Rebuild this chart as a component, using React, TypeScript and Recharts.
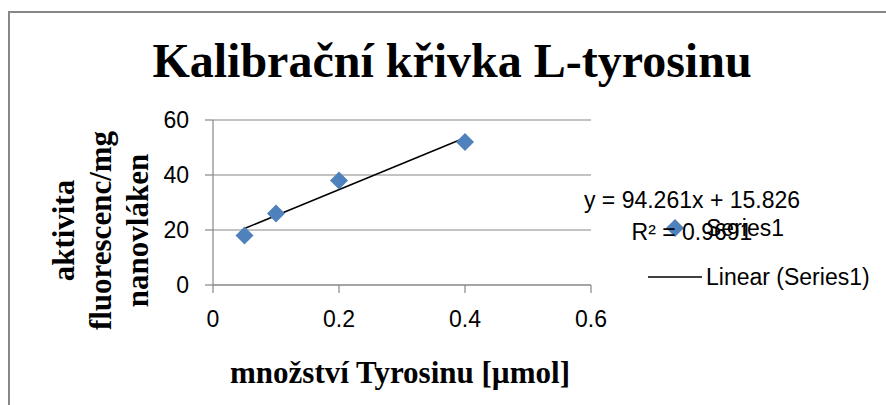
import React from 'react';
import {
  ScatterChart, Scatter, XAxis, YAxis, CartesianGrid,
} from 'recharts';

const amounts = [0.05, 0.1, 0.2, 0.4];
const activity = [18, 26, 38, 52];

// Excel linear trendline endpoints (y = 94.261x + 15.826)
const trendX = [0.05, 0.4];
const trendY = [20.54, 53.53];

const xTicks = [0, 0.2, 0.4, 0.6];
const yTicks = [0, 20, 40, 60];

const seriesName = 'Series1';
const trendName = 'Linear (Series1)';
const equation = 'y = 94.261x + 15.826';
const rSquared = 'R² = 0.9691';

const points = amounts.map((x, i) => ({ x, y: activity[i] }));
const trend = trendX.map((x, i) => ({ x, y: trendY[i] }));

const BLUE = '#4F81BD';
const GRID = '#878787';
const SANS = '"Liberation Sans", Arial, sans-serif';
const SERIF = '"Liberation Serif", "Times New Roman", serif';
const FS = 23;

const Diamond = ({ cx, cy }: any) => {
  const r = 9;
  return (
    <polygon
      points={`${cx},${cy - r} ${cx + r},${cy} ${cx},${cy + r} ${cx - r},${cy}`}
      fill={BLUE}
    />
  );
};

const legendItems = [
  { name: seriesName, kind: 'diamond' },
  { name: trendName, kind: 'line' },
];

const ChartLegend = () => (
  <div
    style={{
      position: 'absolute', left: 648, top: 203.5,
      fontFamily: SANS, fontSize: FS, color: '#000',
    }}
  >
    {legendItems.map(item => (
      <div key={item.name} style={{ display: 'flex', alignItems: 'center', height: 49 }}>
        <svg width={54} height={20} style={{ marginRight: 4 }}>
          {item.kind === 'diamond' ? (
            <polygon points="27,1 36,10 27,19 18,10" fill={BLUE} />
          ) : (
            <line x1={0} y1={10} x2={54} y2={10} stroke="#000" strokeWidth={1.5} />
          )}
        </svg>
        <span style={{ whiteSpace: 'nowrap' }}>{item.name}</span>
      </div>
    ))}
  </div>
);

export default function App() {
  return (
    <div
      style={{
        position: 'absolute', left: 0, top: 0, width: 886, height: 405,
        overflow: 'hidden', background: '#fff',
      }}
    >
      <div
        style={{
          position: 'absolute', left: 8, top: 11, width: 900, height: 420,
          borderLeft: `2px solid ${GRID}`, borderTop: `2px solid ${GRID}`,
        }}
      />
      <div
        style={{
          position: 'absolute', left: 0, top: 37, width: 904, textAlign: 'center',
          fontFamily: SERIF, fontWeight: 'bold', fontSize: 48, lineHeight: '48px',
        }}
      >
        Kalibrační křivka L-tyrosinu
      </div>
      <div
        style={{
          position: 'absolute', left: 0, top: 357, width: 800, textAlign: 'center',
          fontFamily: SERIF, fontWeight: 'bold', fontSize: 31, lineHeight: '31px',
        }}
      >
        množství Tyrosinu [µmol]
      </div>
      <div
        style={{
          position: 'absolute', left: -60, top: 174.5, width: 320, height: 111,
          textAlign: 'center', transform: 'rotate(-90deg)',
          fontFamily: SERIF, fontWeight: 'bold', fontSize: 31, lineHeight: '37px',
        }}
      >
        aktivita<br />fluorescenc/mg<br />nanovláken
      </div>

      <ScatterChart
        width={886}
        height={405}
        margin={{ top: 120, right: 295, bottom: 90, left: 173 }}
        style={{ position: 'absolute', left: 0, top: 0 }}
      >
        <CartesianGrid vertical={false} stroke={GRID} strokeWidth={1.2} />
        <XAxis
          type="number"
          dataKey="x"
          domain={[0, 0.6]}
          ticks={xTicks}
          height={30}
          axisLine={{ stroke: GRID, strokeWidth: 1.2 }}
          tickLine={{ stroke: GRID, strokeWidth: 1.2 }}
          tickSize={8}
          tickMargin={18}
          tick={{ fontFamily: SANS, fontSize: FS, fill: '#000' }}
        />
        <YAxis
          type="number"
          dataKey="y"
          domain={[0, 60]}
          ticks={yTicks}
          width={40}
          axisLine={{ stroke: GRID, strokeWidth: 1.2 }}
          tickLine={{ stroke: GRID, strokeWidth: 1.2 }}
          tickSize={8}
          tickMargin={16}
          tick={{ fontFamily: SANS, fontSize: FS, fill: '#000' }}
        />
        <Scatter
          name={trendName}
          data={trend}
          line={{ stroke: '#000', strokeWidth: 1.5 }}
          shape={() => <g />}
          isAnimationActive={false}
        />
        <Scatter
          name={seriesName}
          data={points}
          shape={Diamond}
          fill={BLUE}
          isAnimationActive={false}
        />
      </ScatterChart>

      <ChartLegend />

      <div
        style={{
          position: 'absolute', left: 542, top: 184, width: 300, textAlign: 'center',
          fontFamily: SANS, fontSize: FS, lineHeight: '32px', color: '#000',
        }}
      >
        {equation}<br />{rSquared}
      </div>
    </div>
  );
}
